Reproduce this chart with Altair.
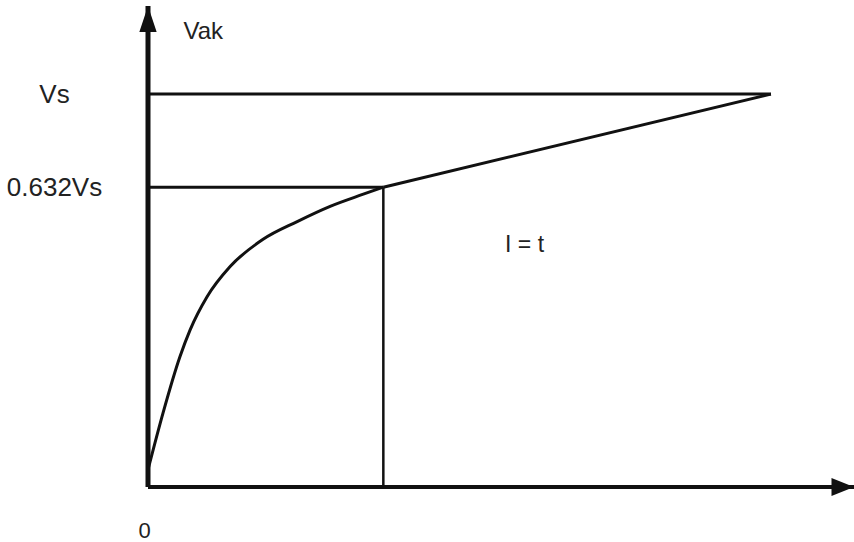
import altair as alt
import pandas as pd

# Charging curve of the capacitor voltage Vak against time (t in units of tau,
# v in units of Vs).
t_curve = [0.0, 0.064, 0.136, 0.179, 0.251, 0.349, 0.489, 0.634, 0.774, 0.915, 1.0]
v_curve = [0.005, 0.059, 0.154, 0.211, 0.292, 0.375, 0.457, 0.514, 0.565, 0.607, 0.632]

tau = 1.0
level_vs = 1.0
level_tau = 0.632
t_vs_end = 2.647
level_labels = ["0.632Vs", "Vs"]
note_text = "I = t"
note_t = 1.6
note_v = 0.44

t_max = 3.0
v_max = 1.41

ink = "#111111"
text_ink = "#222222"
font = "Liberation Sans"

x_scale = alt.Scale(domain=[0, t_max], nice=False, zero=True)
y_scale = alt.Scale(type="pow", exponent=0.589, domain=[0, v_max], nice=False)

label_expr = "datum.value == 1 ? '" + level_labels[1] + "' : '" + level_labels[0] + "'"

x_axis = alt.Axis(values=[0], labelExpr="'0'", domain=False, ticks=False,
                  tickSize=0, grid=False, labelPadding=33, labelOffset=-10,
                  labelFontSize=22, labelFont=font, labelColor=text_ink,
                  title=None, labelBaseline="top")
y_axis = alt.Axis(values=[level_tau, level_vs], labelExpr=label_expr,
                  domain=False, ticks=False, tickSize=0, grid=False,
                  labelAlign="center", labelBaseline="middle", labelPadding=94,
                  labelFontSize=26, labelFont=font, labelColor=text_ink,
                  title="Vak", titleAngle=0, titleX=35, titleY=32,
                  titleAlign="left", titleBaseline="alphabetic",
                  titleFont=font, titleFontSize=24, titleFontWeight="normal",
                  titleColor=text_ink)


def X(field):
    return alt.X(field, type="quantitative", scale=x_scale, axis=x_axis)


def Y(field):
    return alt.Y(field, type="quantitative", scale=y_scale, axis=y_axis)


# Exponential rise up to 0.632Vs, then the straight run up to Vs
curve_df = pd.DataFrame({"t": t_curve, "v": v_curve})
curve = alt.Chart(curve_df).mark_line(
    color=ink, strokeWidth=3, interpolate="monotone"
).encode(x=X("t"), y=Y("v"))

ramp_df = pd.DataFrame({"t": [tau, t_vs_end], "v": [level_tau, level_vs]})
ramp = alt.Chart(ramp_df).mark_line(color=ink, strokeWidth=3).encode(x=X("t"), y=Y("v"))

# Horizontal guide lines at Vs and 0.632Vs, vertical guide at t = tau
guides_h = pd.DataFrame({"t": [0.0, 0.0], "t2": [t_vs_end, tau], "v": [level_vs, level_tau]})
h_rules = alt.Chart(guides_h).mark_rule(color=ink, strokeWidth=3).encode(
    x=X("t"), x2="t2:Q", y=Y("v"),
)

guide_v = pd.DataFrame({"t": [tau], "v": [0.0], "v2": [level_tau]})
v_rule = alt.Chart(guide_v).mark_rule(color=ink, strokeWidth=2.5).encode(
    x=X("t"), y=Y("v"), y2="v2:Q",
)

# Thick axis lines with arrowheads
y_axis_df = pd.DataFrame({"t": [0.0], "v": [0.0], "v2": [v_max]})
y_axis_line = alt.Chart(y_axis_df).mark_rule(color=ink, strokeWidth=5).encode(
    x=X("t"), y=Y("v"), y2="v2:Q",
)
x_axis_df = pd.DataFrame({"t": [0.0], "t2": [t_max], "v": [0.0]})
x_axis_line = alt.Chart(x_axis_df).mark_rule(color=ink, strokeWidth=4).encode(
    x=X("t"), x2="t2:Q", y=Y("v"),
)

up_arrow = alt.Chart(pd.DataFrame({"t": [0.0], "v": [v_max]})).mark_point(
    shape="M0,0L0.5,1.5L-0.5,1.5Z", size=1200, filled=True, opacity=1,
    color=ink, strokeWidth=0,
).encode(x=X("t"), y=Y("v"))
right_arrow = alt.Chart(pd.DataFrame({"t": [t_max], "v": [0.0]})).mark_point(
    shape="M0,0L-1.5,-0.6L-1.5,0.6Z", size=900, filled=True, opacity=1,
    color=ink, strokeWidth=0,
).encode(x=X("t"), y=Y("v"))

note = alt.Chart(pd.DataFrame({"t": [note_t], "v": [note_v], "txt": [note_text]})).mark_text(
    font=font, fontSize=23, color=text_ink, align="center", baseline="middle",
).encode(x=X("t"), y=Y("v"), text="txt:N")

chart = alt.layer(
    curve, ramp, h_rules, v_rule, y_axis_line, x_axis_line, up_arrow, right_arrow, note
).properties(
    width=706,
    height=481,
    autosize=alt.AutoSizeParams(type="none"),
    padding={"left": 148, "top": 6, "right": 0, "bottom": 55},
    background="white",
).configure_view(stroke=None)

chart.save("out.html", embed_options={"renderer": "svg", "actions": False})
